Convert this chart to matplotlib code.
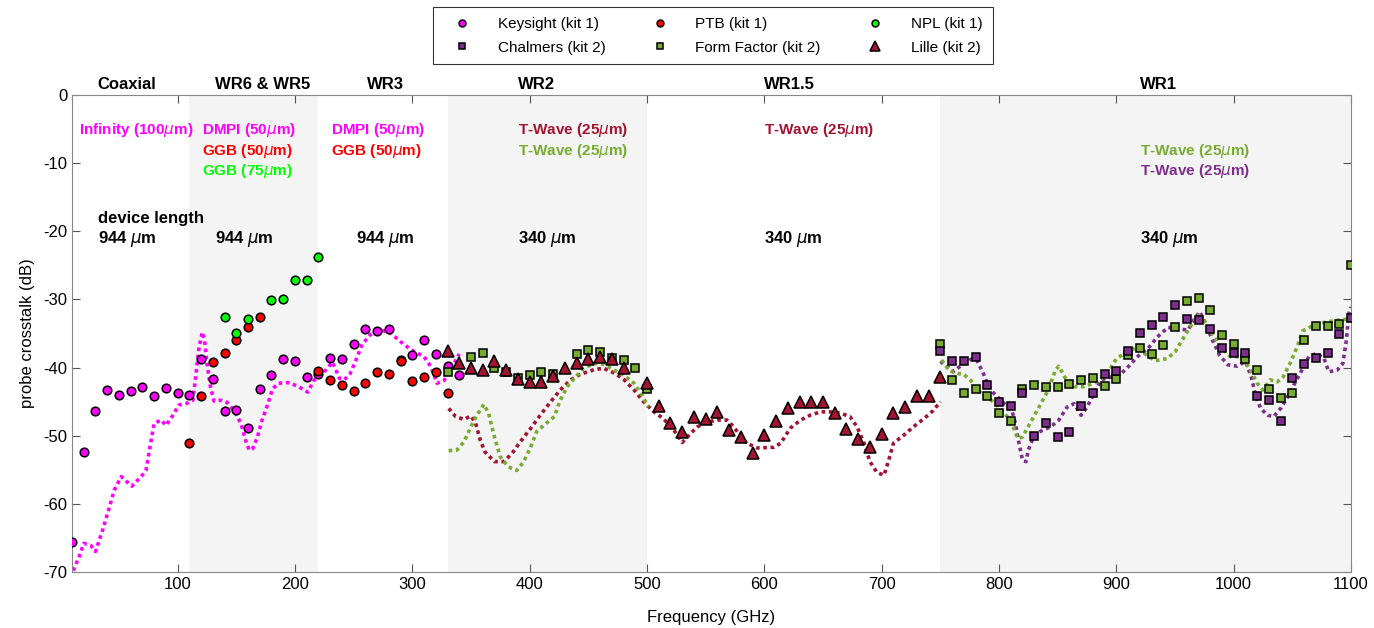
import matplotlib
matplotlib.use('Agg')
import matplotlib.pyplot as plt

plt.rcParams['font.family'] = ['Liberation Sans', 'DejaVu Sans']
plt.rcParams['axes.unicode_minus'] = False

# colours (matlab-ish)
KS_C = '#FF00FF'
PTB_C = '#FF0000'
NPL_C = '#00FF00'
CH_C = '#7E2F8E'
FF_C = '#77AC30'
LI_C = '#A2142F'

# ---- measured points ----
ks_f = [10, 20, 30, 40, 50, 60, 70, 80, 90, 100, 110, 120, 130, 140, 150, 160, 170,
        180, 190, 200, 210, 220, 230, 240, 250, 260, 270, 280, 290, 300, 310, 320, 330, 340]
ks_db = [-65.6, -52.4, -46.4, -43.3, -44.0, -43.4, -42.9, -44.2, -43.0, -43.8, -44.0, -38.7,
         -41.7, -46.4, -46.3, -48.8, -43.1, -41.1, -38.8, -39.0, -41.4, -40.9, -38.6, -38.8,
         -36.6, -34.4, -34.6, -34.4, -38.9, -38.1, -35.9, -38.0, -39.7, -41.1]

ptb_f = [110, 120, 130, 140, 150, 160, 170, 220, 230, 240, 250, 260, 270, 280, 290, 300, 310, 320, 330]
ptb_db = [-51.1, -44.2, -39.2, -37.8, -36.0, -34.0, -32.6, -40.5, -41.8, -42.6, -43.5, -42.3,
          -40.7, -40.9, -39.0, -41.9, -41.4, -40.7, -43.8]

npl_f = [140, 150, 160, 180, 190, 200, 210, 220]
npl_db = [-32.6, -34.9, -32.8, -30.1, -29.9, -27.2, -27.2, -23.8]

li_f = [330, 340, 350, 360, 370, 380, 390, 400, 410, 420, 430, 440, 450, 460, 470, 480,
        500, 510, 520, 530, 540, 550, 560, 570, 580, 590, 600, 610, 620, 630, 640, 650,
        660, 670, 680, 690, 700, 710, 720, 730, 740, 750]
li_db = [-37.5, -39.3, -40.0, -40.3, -39.1, -40.3, -41.7, -42.1, -42.1, -41.2, -40.0, -39.4,
         -38.8, -38.4, -38.8, -40.0, -42.2, -45.7, -48.2, -49.4, -47.2, -47.5, -46.5, -49.2,
         -50.2, -52.5, -49.9, -47.8, -45.9, -45.1, -45.0, -45.1, -46.6, -49.0, -50.5, -51.6,
         -49.8, -46.7, -45.8, -44.2, -44.2, -41.4]

ff2_f = [330, 350, 360, 370, 380, 390, 400, 410, 420, 440, 450, 460, 470, 480, 490, 500]
ff2_db = [-40.6, -38.5, -37.8, -40.0, -40.7, -41.5, -41.1, -40.7, -41.0, -38.0, -37.4, -37.7,
          -38.6, -38.9, -40.1, -43.1]

wr1_f = [750, 760, 770, 780, 790, 800, 810, 820, 830, 840, 850, 860, 870, 880, 890, 900,
         910, 920, 930, 940, 950, 960, 970, 980, 990, 1000, 1010, 1020, 1030, 1040, 1050,
         1060, 1070, 1080, 1090, 1100]
ch_db = [-37.5, -39.0, -39.0, -38.5, -42.5, -45.1, -45.7, -43.8, -50.0, -48.2, -50.2, -49.4,
         -45.7, -43.8, -41.0, -40.5, -37.5, -35.0, -33.7, -32.6, -30.8, -32.8, -33.0, -34.4,
         -37.2, -37.8, -37.8, -44.1, -44.7, -47.9, -41.5, -39.5, -38.6, -37.9, -35.1, -32.7]
ff1_db = [-36.6, -41.8, -43.8, -43.1, -44.2, -46.6, -47.9, -43.2, -42.5, -42.9, -42.8, -42.4,
          -41.8, -41.6, -42.7, -41.7, -38.2, -37.1, -38.0, -36.7, -34.1, -30.2, -29.8, -31.6,
          -35.2, -36.6, -38.7, -40.3, -43.2, -44.5, -43.7, -35.9, -33.9, -33.9, -33.6, -25.0]

# ---- simulated traces (dotted) ----
ks_sim_f = [11, 16, 20, 26, 30, 36, 42, 46, 52, 57, 61, 69, 73, 76, 80, 86, 90, 96, 101, 107,
            113, 115, 118, 121, 123, 125, 128, 131, 137, 142, 148, 154, 158, 161, 164, 168,
            172, 177, 181, 186, 194, 202, 211, 216, 225, 232, 238, 242, 247, 252, 257, 264,
            273, 282, 290, 299, 310, 316, 321, 327, 331, 340]
ks_sim_db = [-69.8, -67.8, -65.8, -66.1, -67.0, -63.9, -60.4, -58.0, -56.0, -56.8, -57.4,
             -56.0, -55.1, -52.1, -48.2, -47.7, -48.5, -47.0, -45.5, -45.3, -44.8, -41.9,
             -37.4, -34.8, -36.0, -39.4, -42.8, -44.9, -44.8, -45.1, -46.3, -48.2, -50.7,
             -52.1, -51.9, -50.2, -47.7, -45.3, -43.1, -42.3, -42.2, -42.7, -43.6, -41.9,
             -40.6, -39.2, -41.6, -41.8, -40.9, -38.9, -36.7, -35.2, -34.5, -35.0, -36.2,
             -37.4, -38.4, -39.9, -42.3, -41.9, -40.9, -38.0]

li_sim_f = [331, 337, 344, 350, 354, 358, 362, 370, 378, 385, 392, 401, 409, 418, 426, 435,
            443, 455, 463, 472, 480, 489, 497, 506, 514, 523, 530, 537, 543, 551, 560, 568,
            574, 581, 585, 594, 608, 614, 622, 631, 639, 648, 656, 665, 673, 679, 685, 690,
            696, 702, 706, 710, 719, 727, 736, 744, 750]
li_sim_db = [-46.0, -47.2, -47.6, -47.1, -48.2, -50.7, -52.4, -53.8, -53.8, -52.6, -50.9,
             -48.9, -47.0, -45.0, -43.3, -41.8, -41.0, -40.3, -40.1, -40.8, -41.7, -43.3,
             -45.0, -46.5, -47.5, -49.2, -51.0, -49.7, -48.7, -48.0, -47.7, -47.7, -48.7,
             -50.4, -51.1, -51.8, -51.7, -51.1, -48.9, -47.7, -47.0, -46.5, -46.5, -46.7,
             -47.2, -48.7, -51.1, -53.8, -55.4, -55.8, -53.6, -51.1, -49.9, -48.7, -47.5,
             -46.3, -45.0]

ff2_sim_f = [331, 338, 344, 350, 355, 361, 365, 370, 375, 382, 389, 395, 401, 406, 414, 421,
             426, 432, 438, 446, 455, 463, 472, 480, 489, 496, 501]
ff2_sim_db = [-52.2, -52.1, -50.9, -48.7, -47.0, -45.4, -46.7, -50.2, -53.1, -54.6, -55.1,
              -53.8, -51.6, -49.4, -48.2, -47.2, -44.8, -42.8, -41.6, -40.1, -39.4, -39.5,
              -40.4, -41.1, -42.3, -44.1, -45.8]

ch_sim_f = [750, 756, 761, 767, 776, 781, 786, 790, 794, 800, 805, 811, 814, 817, 820, 823,
            825, 830, 837, 844, 851, 858, 864, 870, 875, 881, 887, 895, 904, 910, 918, 927,
            935, 944, 952, 961, 966, 971, 976, 982, 988, 995, 1003, 1010, 1015, 1019, 1023,
            1029, 1034, 1040, 1046, 1052, 1059, 1064, 1071, 1077, 1081, 1088, 1093, 1096,
            1098, 1100]
ch_sim_db = [-39.1, -39.9, -40.6, -39.8, -38.8, -38.9, -40.6, -42.3, -43.5, -44.5, -45.4,
             -46.3, -48.2, -51.1, -53.6, -53.8, -52.1, -49.9, -49.2, -48.7, -47.7, -45.8,
             -45.3, -47.0, -45.8, -43.8, -41.8, -41.4, -40.9, -39.9, -38.4, -37.2, -35.5,
             -34.1, -34.3, -34.5, -33.0, -31.8, -33.5, -36.0, -38.2, -39.6, -39.8, -39.1,
             -41.4, -44.3, -46.0, -47.0, -47.2, -46.0, -44.3, -42.3, -40.1, -38.4, -37.9,
             -38.7, -40.6, -40.4, -39.4, -36.0, -32.1, -31.1]

ff1_sim_f = [751, 758, 766, 770, 776, 781, 790, 798, 807, 812, 816, 820, 827, 835, 842, 848,
             851, 856, 864, 872, 881, 889, 895, 900, 909, 917, 926, 933, 943, 950, 956, 963,
             970, 976, 983, 990, 997, 1005, 1013, 1020, 1025, 1031, 1037, 1042, 1048, 1054,
             1059, 1068, 1079, 1091, 1100]
ff1_sim_db = [-38.9, -40.5, -40.9, -41.0, -41.9, -43.3, -44.3, -45.5, -47.2, -48.7, -50.4,
              -50.2, -48.0, -45.5, -43.3, -40.4, -39.8, -41.4, -42.8, -42.8, -42.3, -41.4,
              -40.1, -38.7, -37.7, -37.1, -38.2, -39.0, -38.7, -37.7, -36.0, -34.0, -32.3,
              -33.4, -35.5, -37.2, -38.4, -38.4, -39.9, -42.3, -43.3, -41.8, -42.1, -41.4,
              -39.4, -37.0, -34.6, -33.8, -33.3, -33.0, -32.8]

# shaded waveguide bands and labels
bands = [(110, 220), (330, 500), (750, 1100)]
band_names = ['Coaxial', 'WR6 & WR5', 'WR3', 'WR2', 'WR1.5', 'WR1']
band_x = [32, 132, 261, 390, 600, 920]

fig = plt.figure(figsize=(13.74, 6.28), dpi=100)
ax = fig.add_axes([0.0524, 0.0892, 0.9309, 0.7595])

for lo, hi in bands:
    ax.axvspan(lo, hi, color='#f4f4f4', zorder=0, lw=0)

dot = dict(linestyle=(0, (1, 1)), linewidth=2.6, zorder=2)
ax.plot(ks_sim_f, ks_sim_db, color=KS_C, **dot)
ax.plot(li_sim_f, li_sim_db, color=LI_C, **dot)
ax.plot(ff2_sim_f, ff2_sim_db, color=FF_C, **dot)
ax.plot(ch_sim_f, ch_sim_db, color=CH_C, **dot)
ax.plot(ff1_sim_f, ff1_sim_db, color=FF_C, **dot)

mk = dict(linestyle='none', markeredgecolor='k', markeredgewidth=1.1, zorder=3)
h_ks, = ax.plot(ks_f, ks_db, 'o', color=KS_C, markersize=6.2, label='Keysight (kit 1)', **mk)
h_ptb, = ax.plot(ptb_f, ptb_db, 'o', color=PTB_C, markersize=6.2, label='PTB (kit 1)', **mk)
h_npl, = ax.plot(npl_f, npl_db, 'o', color=NPL_C, markersize=6.2, label='NPL (kit 1)', **mk)
h_ff, = ax.plot(ff2_f, ff2_db, 's', color=FF_C, markersize=5.3, label='Form Factor (kit 2)', **mk)
ax.plot(wr1_f, ff1_db, 's', color=FF_C, markersize=5.3, **mk)
h_ch, = ax.plot(wr1_f, ch_db, 's', color=CH_C, markersize=5.3, label='Chalmers (kit 2)', **mk)
h_li, = ax.plot(li_f, li_db, '^', color=LI_C, markersize=8.6, label='Lille (kit 2)', **mk)

ax.set_xlim(10, 1100)
ax.set_ylim(-70, 0)
ax.set_xticks([100, 200, 300, 400, 500, 600, 700, 800, 900, 1000, 1100])
ax.set_yticks([0, -10, -20, -30, -40, -50, -60, -70])
ax.tick_params(direction='in', top=True, right=True, labelsize=12, length=6, color='#555555')
for s in ax.spines.values():
    s.set_color('#888888')
    s.set_linewidth(0.8)
ax.set_xlabel('Frequency (GHz)', fontsize=12, labelpad=13)
ax.set_ylabel('probe crosstalk (dB)', fontsize=12, labelpad=6)

# band titles above the axes
for name, x in zip(band_names, band_x):
    ax.text(x, 1.6, name, fontsize=12, fontweight='bold', va='center', ha='left', clip_on=False)

tk = dict(fontsize=11, fontweight='bold', va='center', ha='left')
ax.text(16, -5.1, 'Infinity (100$\\mu$m)', color=KS_C, **tk)
ax.text(121, -5.1, 'DMPI (50$\\mu$m)', color=KS_C, **tk)
ax.text(121, -8.2, 'GGB (50$\\mu$m)', color=PTB_C, **tk)
ax.text(121, -11.2, 'GGB (75$\\mu$m)', color=NPL_C, **tk)
ax.text(231, -5.1, 'DMPI (50$\\mu$m)', color=KS_C, **tk)
ax.text(231, -8.2, 'GGB (50$\\mu$m)', color=PTB_C, **tk)
ax.text(390, -5.1, 'T-Wave (25$\\mu$m)', color=LI_C, **tk)
ax.text(390, -8.2, 'T-Wave (25$\\mu$m)', color=FF_C, **tk)
ax.text(600, -5.1, 'T-Wave (25$\\mu$m)', color=LI_C, **tk)
ax.text(920, -8.2, 'T-Wave (25$\\mu$m)', color=FF_C, **tk)
ax.text(920, -11.2, 'T-Wave (25$\\mu$m)', color=CH_C, **tk)

lk = dict(fontsize=12, fontweight='bold', va='center', ha='left', color='k')
ax.text(32, -18.1, 'device length', **lk)
ax.text(32, -21.1, '944 $\\mu$m', **lk)
ax.text(132, -21.1, '944 $\\mu$m', **lk)
ax.text(252, -21.1, '944 $\\mu$m', **lk)
ax.text(390, -21.1, '340 $\\mu$m', **lk)
ax.text(600, -21.1, '340 $\\mu$m', **lk)
ax.text(920, -21.1, '340 $\\mu$m', **lk)

leg = fig.legend([h_ks, h_ch, h_ptb, h_ff, h_npl, h_li],
                 ['Keysight (kit 1)', 'Chalmers (kit 2)', 'PTB (kit 1)', 'Form Factor (kit 2)',
                  'NPL (kit 1)', 'Lille (kit 2)'],
                 loc='center', bbox_to_anchor=(0.5186, 0.9427), ncol=3, fontsize=11,
                 fancybox=False, edgecolor='k', handlelength=2.5, handletextpad=1.1,
                 columnspacing=2.3, borderpad=0.65, labelspacing=0.6, markerscale=0.8)
leg.get_frame().set_linewidth(0.8)

fig.savefig('out.png', dpi=100)
